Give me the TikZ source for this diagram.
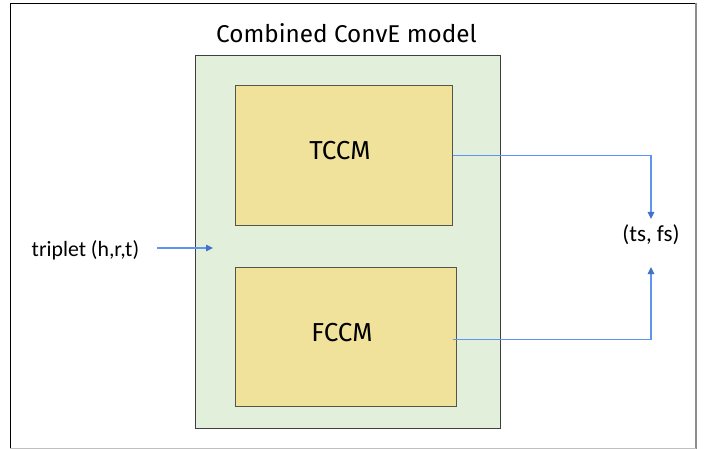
\documentclass[tikz,border=0pt]{standalone}
\usepackage{fontspec}
\setmainfont{Fira Sans}
\newfontfamily\calib{Carlito}
\usetikzlibrary{arrows.meta,calc}
\definecolor{modelgreen}{HTML}{E2EFDA}
\definecolor{modeledge}{HTML}{3F3F3F}
\definecolor{blockfill}{HTML}{F0E29B}
\definecolor{blockedge}{HTML}{55554A}
\definecolor{linkblue}{HTML}{5F95F2}
\definecolor{tipblue}{HTML}{4472C4}
\definecolor{framegray}{HTML}{8C8C8C}
\definecolor{framelight}{HTML}{BFBFBF}

\begin{document}
\begin{tikzpicture}[x=1pt,y=-1pt,
  modelbox/.style={fill=modelgreen, draw=modeledge, line width=1.3pt, inner sep=0pt, anchor=north west},
  block/.style={fill=blockfill, draw=blockedge, line width=1pt, inner sep=0pt, anchor=north west},
  blocktext/.style={font=\fontsize{26}{30}\selectfont, inner sep=0pt, anchor=base},
  titletext/.style={font=\fontsize{24.3}{28}\selectfont, inner sep=0pt, anchor=base},
  sidetext/.style={font=\calib\fontsize{21.8}{25}\selectfont, inner sep=0pt},
  link/.style={draw=linkblue, line width=1.1pt, -{Triangle[length=7pt,width=6.5pt,fill=tipblue,color=tipblue]}}
]
% page and outer frame
\useasboundingbox (0,0) rectangle (715,449);
\fill[white] (0,0) rectangle (715,449);
\draw[black, line width=1.2pt] (10.3,3.5) -- (696,3.5);
\draw[black, line width=1.2pt] (10.3,3.5) -- (10.3,449);
\draw[framegray, line width=1.6pt] (696,3.5) -- (696,449);
\draw[framelight, line width=1.2pt] (10.3,448.5) -- (696,448.5);

% combined model container and its title
\node[modelbox, minimum width=305pt, minimum height=373pt] (model) at (195,55) {};
\node[titletext] (title) at (346.5,42.5) {Combined ConvE model};

% the two sub-models
\node[block, minimum width=216.5pt, minimum height=140pt] (tccm) at (235,85) {};
\node[blocktext] (tccmtext) at (340,160) {TCCM};
\node[block, minimum width=221pt, minimum height=139pt] (fccm) at (235,267) {};
\node[blocktext] (fccmtext) at (342,341) {FCCM};

% input and output labels
\node[sidetext, anchor=base west] (trip) at (31.5,257) {triplet (h,r,t)};
\node[sidetext, font=\calib\fontsize{23}{26}\selectfont, anchor=base] (score) at (651,242) {(ts, fs)};

\coordinate (inend) at (213,248);
\coordinate (topin) at (651,219);
\coordinate (botin) at (651,267);

% connectors
\draw[link] ([xshift=18pt]trip.east |- inend) -- (inend);
\draw[link] (tccm.east) -| (topin);
\draw[link] ($(fccm.east)+(-4,2.5)$) -| (botin);
\end{tikzpicture}
\end{document}
